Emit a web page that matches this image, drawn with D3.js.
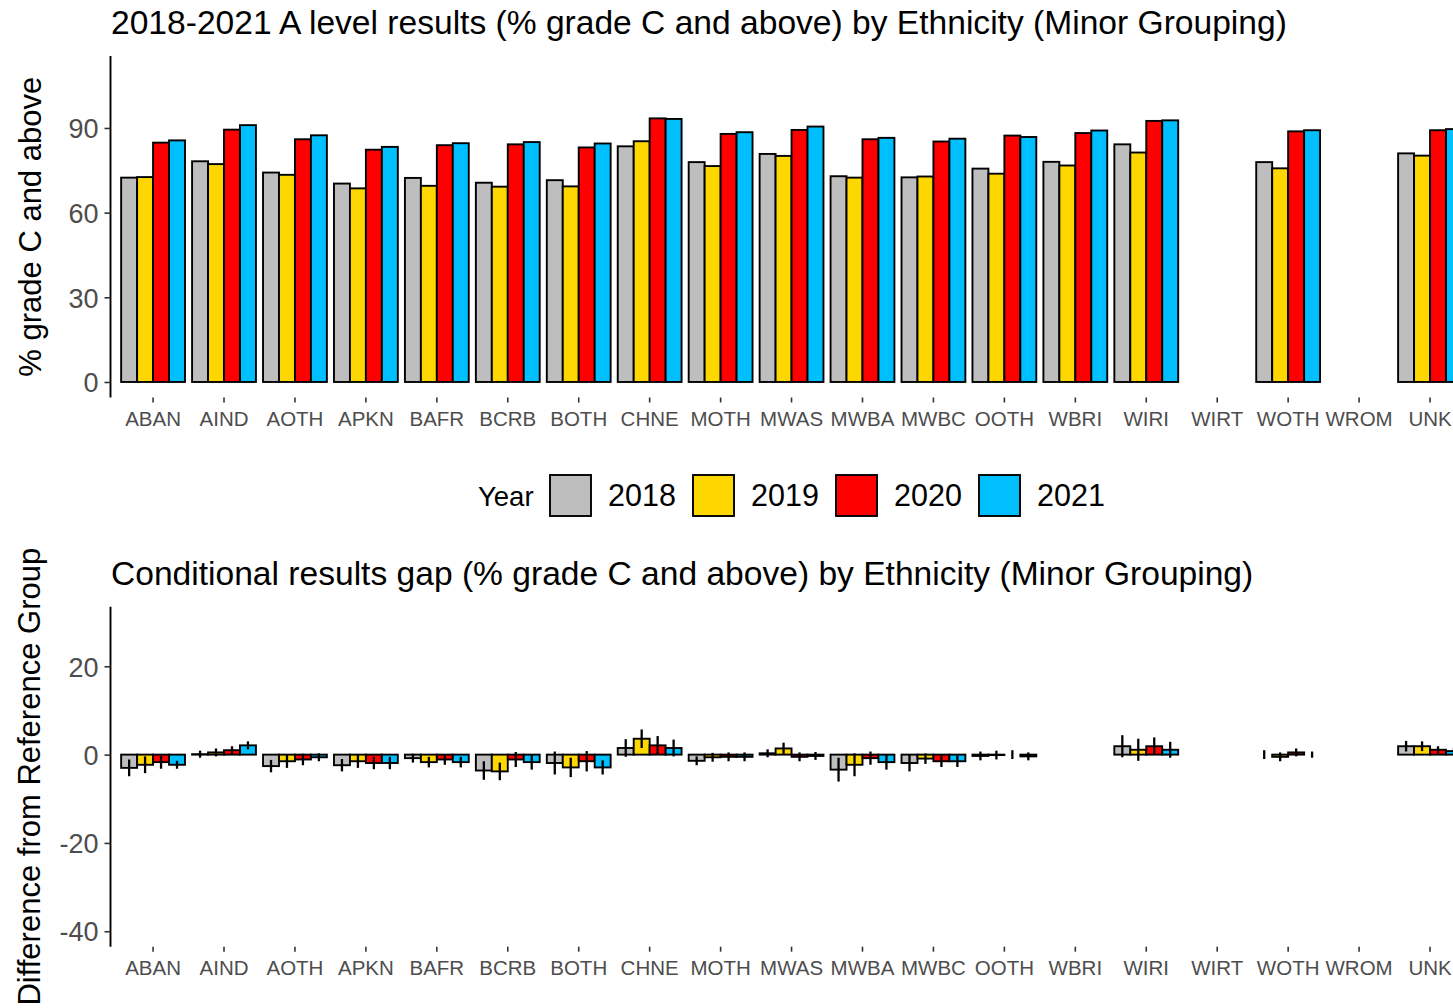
<!DOCTYPE html>
<html>
<head>
<meta charset="utf-8">
<script src="https://cdn.jsdelivr.net/npm/d3@7"></script>
<style>
  html, body { margin: 0; padding: 0; background: #fff; overflow: hidden; }
  svg { display: block; font-family: "Liberation Sans", Arial, Helvetica, sans-serif; }
</style>
</head>
<body>
<svg id="chart" width="1453" height="1008"></svg>
<script>
// ---------------- DATA ----------------
const categories = ["ABAN","AIND","AOTH","APKN","BAFR","BCRB","BOTH","CHNE","MOTH","MWAS","MWBA","MWBC","OOTH","WBRI","WIRI","WIRT","WOTH","WROM","UNK"];
const years = ["2018","2019","2020","2021"];
const yearColors = ["#BEBEBE","#FFD700","#FF0000","#00BFFF"];

// % grade C and above
const pct2018 = [72.4,78.2,74.2,70.3,72.3,70.6,71.5,83.5,77.9,80.8,72.9,72.5,75.6,78.0,84.2,null,77.9,null,81.0];
const pct2019 = [72.6,77.2,73.4,68.6,69.5,69.2,69.3,85.3,76.5,80.1,72.4,72.8,73.8,76.7,81.3,null,75.7,null,80.2];
const pct2020 = [84.8,89.4,86.0,82.3,83.9,84.2,83.1,93.4,87.9,89.3,86.0,85.2,87.3,88.2,92.5,null,88.8,null,89.2];
const pct2021 = [85.6,91.0,87.4,83.3,84.6,85.0,84.5,93.2,88.5,90.5,86.5,86.2,86.8,89.1,92.7,null,89.2,null,89.6];

// Conditional gap from reference group (WBRI)
const gap2018 = [-3.0,0.1,-2.6,-2.4,-0.8,-3.6,-1.9,1.5,-1.4,0.3,-3.4,-1.9,-0.3,null,1.9,null,0.0,null,1.9];
const gap2019 = [-2.3,0.5,-1.5,-1.5,-1.7,-3.8,-2.9,3.6,-0.6,1.4,-2.3,-0.9,-0.1,null,1.1,null,-0.5,null,1.9];
const gap2020 = [-1.7,1.0,-1.1,-1.9,-1.1,-1.1,-1.5,2.1,-0.5,-0.5,-0.8,-1.5,0.0,null,1.9,null,0.5,null,1.1];
const gap2021 = [-2.3,2.1,-0.6,-1.9,-1.7,-1.7,-2.9,1.5,-0.5,-0.3,-1.7,-1.5,-0.4,null,1.1,null,0.0,null,0.8];

// Error bar half-widths
const err2018 = [1.9,0.8,1.4,1.4,1.0,2.1,2.6,2.0,1.0,0.9,2.7,1.9,1.0,null,2.5,null,1.0,null,1.2];
const err2019 = [1.9,0.9,1.5,1.5,1.2,2.0,2.2,2.1,1.0,1.3,2.6,1.2,1.0,null,2.5,null,1.0,null,1.1];
const err2020 = [1.5,0.9,1.3,1.4,1.2,1.7,2.3,2.1,1.0,1.0,1.5,1.3,1.0,null,2.0,null,0.9,null,0.8];
const err2021 = [0.9,0.9,0.9,1.4,1.2,1.7,1.6,1.9,1.0,0.9,1.7,1.3,0.9,null,1.8,null,0.7,null,0.8];

const topTicks = [0, 30, 60, 90];
const bottomTicks = [-40, -20, 0, 20];

const topTitle = "2018-2021 A level results (% grade C and above) by Ethnicity (Minor Grouping)";
const bottomTitle = "Conditional results gap (% grade C and above) by Ethnicity (Minor Grouping)";
const topYLabel = "% grade C and above";
const bottomYLabel = "Difference from Reference Group";
const legendTitle = "Year";

// ---------------- BUILD TABLES ----------------
const pctSeries = [pct2018, pct2019, pct2020, pct2021];
const gapSeries = [gap2018, gap2019, gap2020, gap2021];
const errSeries = [err2018, err2019, err2020, err2021];

const topRows = [];
const botRows = [];
categories.forEach((c, i) => {
  years.forEach((y, j) => {
    if (pctSeries[j][i] != null) topRows.push({cat: c, year: y, value: pctSeries[j][i]});
    if (gapSeries[j][i] != null) botRows.push({cat: c, year: y, value: gapSeries[j][i], err: errSeries[j][i]});
  });
});

// ---------------- LAYOUT ----------------
const svg = d3.select("#chart");
const panelLeft = 110.5, panelRight = 1472.6;
const TXT = "#4D4D4D";

const x0 = d3.scaleBand().domain(categories).range([panelLeft, panelRight])
  .paddingInner(0.1).paddingOuter(0.15);
const x1 = d3.scaleBand().domain(years).range([0, x0.bandwidth()]).padding(0);
const color = d3.scaleOrdinal().domain(years).range(yearColors);

function drawPanel(opts) {
  const {y, rows, ticks, title, titleY, yLabel, yLabelX, withErr} = opts;
  const [yb, yt] = y.range();
  const g = svg.append("g");

  // bars
  g.selectAll("rect.bar").data(rows).join("rect")
    .attr("class", "bar")
    .attr("x", d => x0(d.cat) + x1(d.year))
    .attr("width", x1.bandwidth())
    .attr("y", d => Math.min(y(0), y(d.value)))
    .attr("height", d => Math.abs(y(d.value) - y(0)))
    .attr("fill", d => color(d.year))
    .attr("stroke", "#000")
    .attr("stroke-width", 1.9);

  if (withErr) {
    g.selectAll("line.err").data(rows).join("line")
      .attr("class", "err")
      .attr("x1", d => x0(d.cat) + x1(d.year) + x1.bandwidth() / 2)
      .attr("x2", d => x0(d.cat) + x1(d.year) + x1.bandwidth() / 2)
      .attr("y1", d => y(d.value - d.err))
      .attr("y2", d => y(d.value + d.err))
      .attr("stroke", "#000")
      .attr("stroke-width", 2.3);
  }

  // y axis
  const yAxis = d3.axisLeft(y).tickValues(ticks).tickSize(6).tickPadding(6).tickFormat(d => String(d));
  const ya = svg.append("g").attr("transform", `translate(${panelLeft},0)`).call(yAxis);
  ya.select(".domain").attr("stroke", "#000").attr("stroke-width", 1.9)
    .attr("d", `M0,${yb}V${yt}`);
  ya.selectAll(".tick line").attr("stroke", "#333").attr("stroke-width", 1.6);
  ya.selectAll(".tick text").attr("fill", TXT).attr("font-size", 27)
    .attr("font-family", "Liberation Sans, Arial, sans-serif").attr("dy", "0.36em");

  // x axis (ticks + labels, no line)
  const xAxis = d3.axisBottom(x0).tickSize(5).tickPadding(9);
  const xa = svg.append("g").attr("transform", `translate(0,${yb})`).call(xAxis);
  xa.select(".domain").remove();
  xa.selectAll(".tick line").attr("stroke", "#333").attr("stroke-width", 1.6);
  xa.selectAll(".tick text").attr("fill", TXT).attr("font-size", 20.5)
    .attr("font-family", "Liberation Sans, Arial, sans-serif");

  // title
  svg.append("text").attr("x", 111).attr("y", titleY)
    .attr("font-size", 33.6).attr("fill", "#000").text(title);

  // y label
  svg.append("text")
    .attr("transform", `translate(${yLabelX},${(yb + yt) / 2}) rotate(-90)`)
    .attr("text-anchor", "middle").attr("font-size", 31).attr("fill", "#000")
    .text(yLabel);
}

const yTop = d3.scaleLinear().domain([-5.5, 115.5]).range([397.5, 56]);
const yBot = d3.scaleLinear().domain([-43.5, 33.5]).range([946.7, 606.7]);

drawPanel({y: yTop, rows: topRows, ticks: topTicks, title: topTitle, titleY: 34,
  yLabel: topYLabel, yLabelX: 41, withErr: false});
drawPanel({y: yBot, rows: botRows, ticks: bottomTicks, title: bottomTitle, titleY: 585,
  yLabel: bottomYLabel, yLabelX: 40, withErr: true});

// ---------------- LEGEND ----------------
const lg = svg.append("g");
lg.append("text").attr("x", 478).attr("y", 506).attr("font-size", 27.5).attr("fill", "#000").text(legendTitle);
const keyX0 = 550, keyStep = 143, keySize = 41, keyTop = 475;
years.forEach((yr, i) => {
  lg.append("rect").attr("x", keyX0 + i * keyStep).attr("y", keyTop)
    .attr("width", keySize).attr("height", keySize)
    .attr("fill", color(yr)).attr("stroke", "#000").attr("stroke-width", 1.9);
  lg.append("text").attr("x", keyX0 + i * keyStep + 58).attr("y", 506)
    .attr("font-size", 30.5).attr("fill", "#000").text(yr);
});
</script>
</body>
</html>
